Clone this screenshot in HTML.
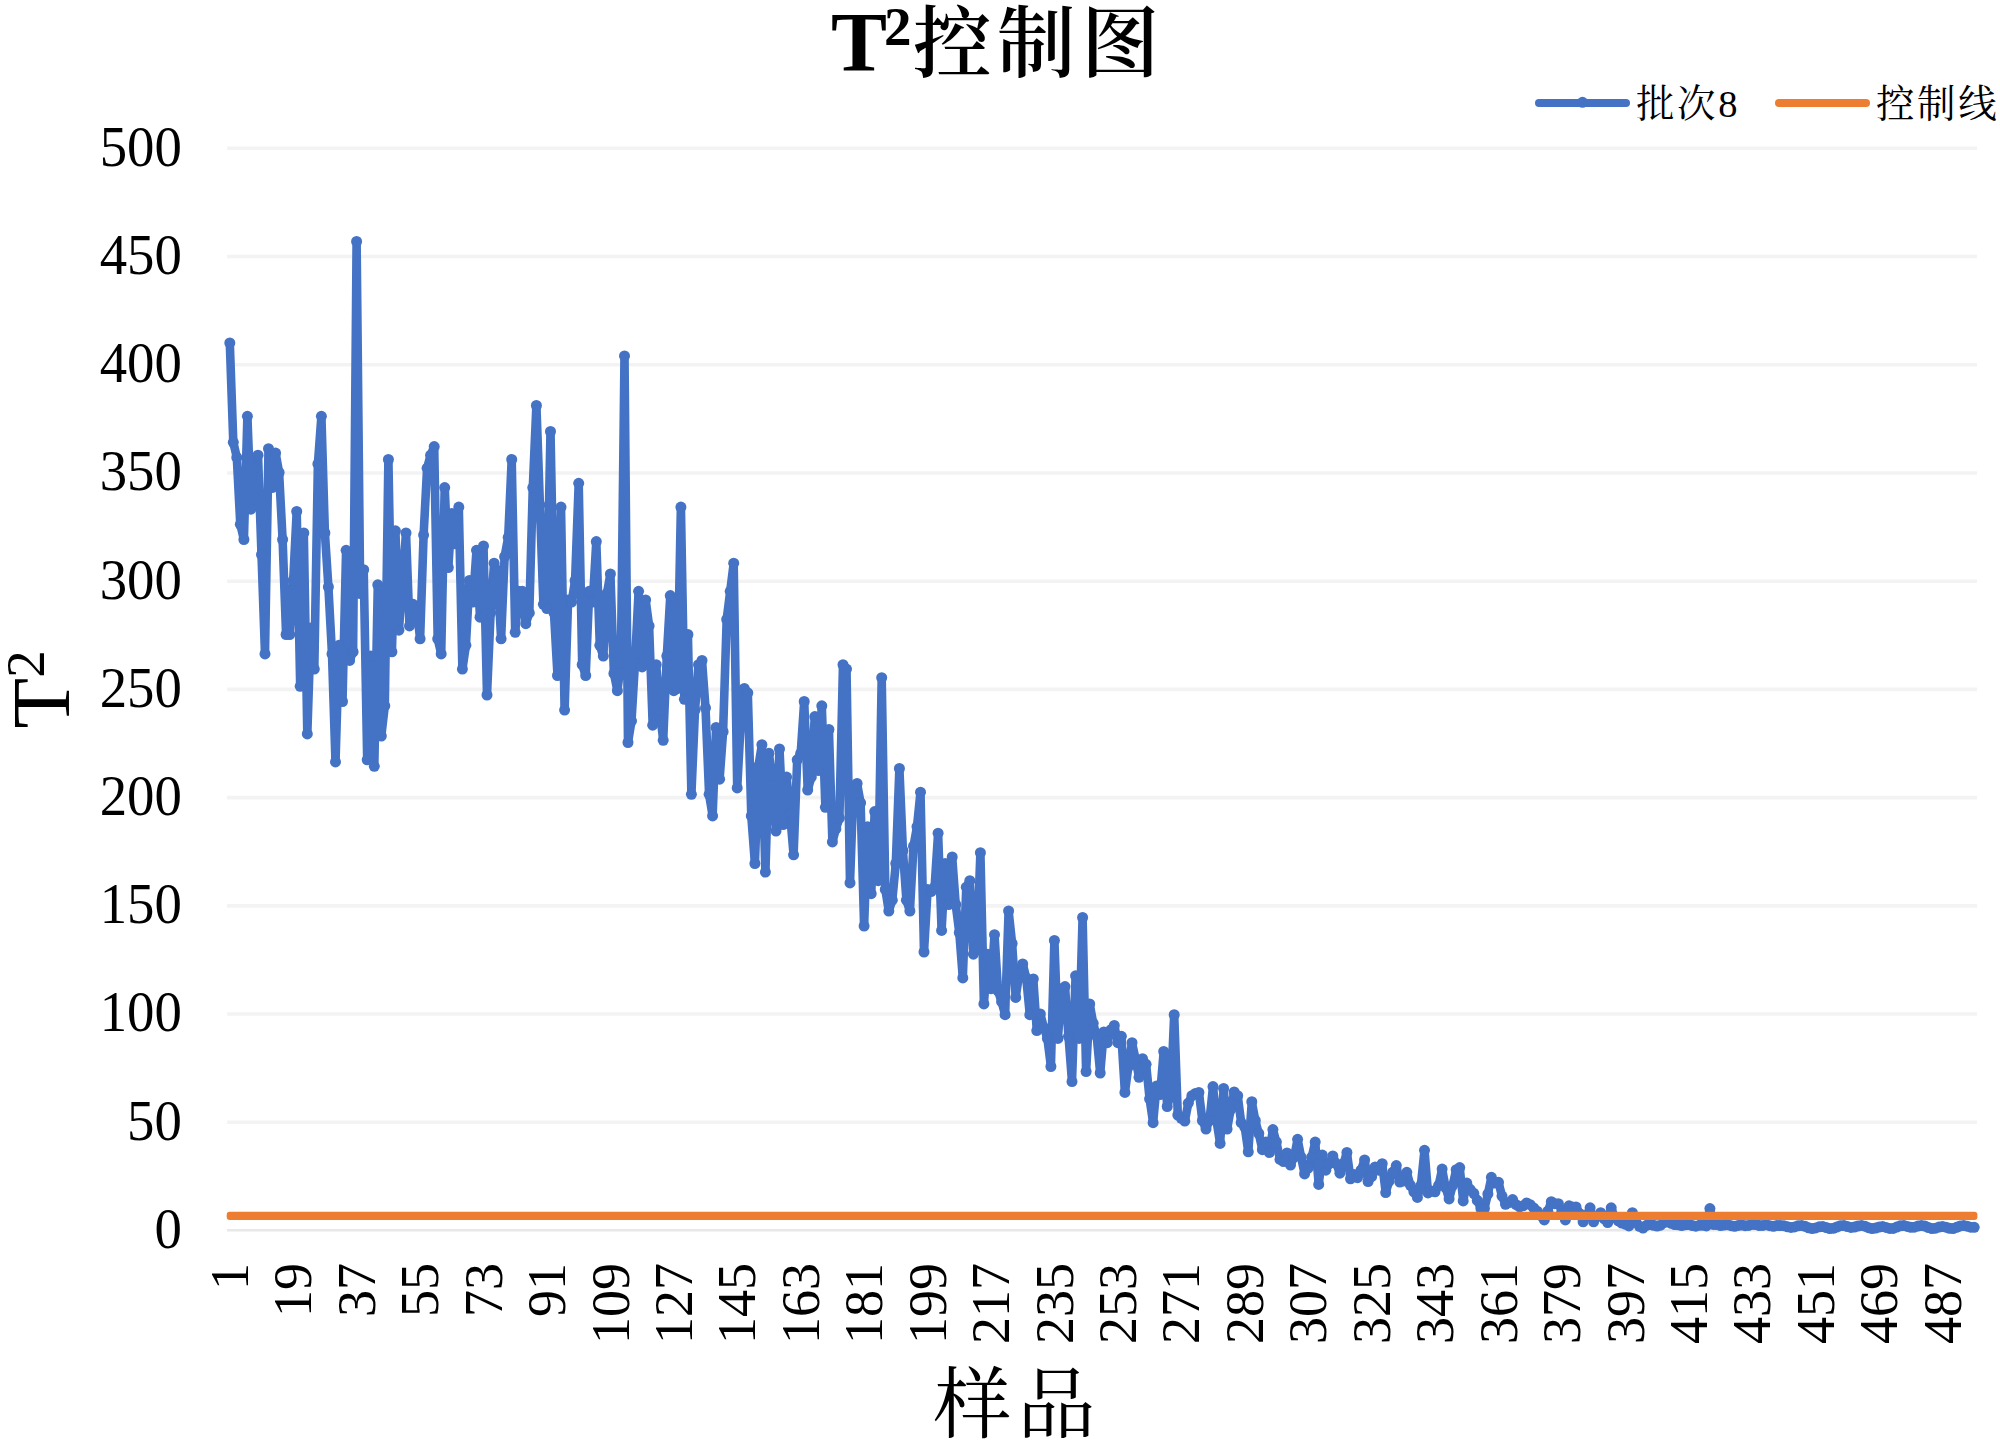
<!DOCTYPE html>
<html lang="zh"><head><meta charset="utf-8"><title>T²控制图</title>
<style>
html,body{margin:0;padding:0;background:#fff;}
body{width:2000px;height:1441px;overflow:hidden;}
svg{display:block;}
text{fill:#000;}
.num{font-family:"Liberation Serif","Noto Serif CJK SC",serif;font-size:54px;}
.cjk{font-family:"Liberation Serif","Noto Serif CJK SC",serif;}
</style></head><body>
<svg width="2000" height="1441" viewBox="0 0 2000 1441">
<rect width="2000" height="1441" fill="#fff"/>
<g stroke="#F3F3F3" stroke-width="3.6">
<line x1="227.0" y1="1122.28" x2="1977.0" y2="1122.28"/>
<line x1="227.0" y1="1014.06" x2="1977.0" y2="1014.06"/>
<line x1="227.0" y1="905.84" x2="1977.0" y2="905.84"/>
<line x1="227.0" y1="797.62" x2="1977.0" y2="797.62"/>
<line x1="227.0" y1="689.40" x2="1977.0" y2="689.40"/>
<line x1="227.0" y1="581.18" x2="1977.0" y2="581.18"/>
<line x1="227.0" y1="472.96" x2="1977.0" y2="472.96"/>
<line x1="227.0" y1="364.74" x2="1977.0" y2="364.74"/>
<line x1="227.0" y1="256.52" x2="1977.0" y2="256.52"/>
<line x1="227.0" y1="148.30" x2="1977.0" y2="148.30"/>
</g>
<line x1="227.0" y1="1230.20" x2="1977.0" y2="1230.20" stroke="#E8E8E8" stroke-width="2.6"/>
<g class="num" text-anchor="end">
<text transform="translate(181.9,1247.90) scale(1.015,1.045)">0</text>
<text transform="translate(181.9,1139.68) scale(1.015,1.045)">50</text>
<text transform="translate(181.9,1031.46) scale(1.015,1.045)">100</text>
<text transform="translate(181.9,923.24) scale(1.015,1.045)">150</text>
<text transform="translate(181.9,815.02) scale(1.015,1.045)">200</text>
<text transform="translate(181.9,706.80) scale(1.015,1.045)">250</text>
<text transform="translate(181.9,598.58) scale(1.015,1.045)">300</text>
<text transform="translate(181.9,490.36) scale(1.015,1.045)">350</text>
<text transform="translate(181.9,382.14) scale(1.015,1.045)">400</text>
<text transform="translate(181.9,273.92) scale(1.015,1.045)">450</text>
<text transform="translate(181.9,165.70) scale(1.015,1.045)">500</text>
</g>
<g class="num" text-anchor="end">
<text transform="translate(229.76,1263.1) rotate(-90)" y="18.2">1</text>
<text transform="translate(293.20,1263.1) rotate(-90)" y="18.2">19</text>
<text transform="translate(356.63,1263.1) rotate(-90)" y="18.2">37</text>
<text transform="translate(420.07,1263.1) rotate(-90)" y="18.2">55</text>
<text transform="translate(483.50,1263.1) rotate(-90)" y="18.2">73</text>
<text transform="translate(546.94,1263.1) rotate(-90)" y="18.2">91</text>
<text transform="translate(610.38,1263.1) rotate(-90)" y="18.2">109</text>
<text transform="translate(673.81,1263.1) rotate(-90)" y="18.2">127</text>
<text transform="translate(737.25,1263.1) rotate(-90)" y="18.2">145</text>
<text transform="translate(800.68,1263.1) rotate(-90)" y="18.2">163</text>
<text transform="translate(864.12,1263.1) rotate(-90)" y="18.2">181</text>
<text transform="translate(927.55,1263.1) rotate(-90)" y="18.2">199</text>
<text transform="translate(990.99,1263.1) rotate(-90)" y="18.2">217</text>
<text transform="translate(1054.42,1263.1) rotate(-90)" y="18.2">235</text>
<text transform="translate(1117.86,1263.1) rotate(-90)" y="18.2">253</text>
<text transform="translate(1181.29,1263.1) rotate(-90)" y="18.2">271</text>
<text transform="translate(1244.73,1263.1) rotate(-90)" y="18.2">289</text>
<text transform="translate(1308.17,1263.1) rotate(-90)" y="18.2">307</text>
<text transform="translate(1371.60,1263.1) rotate(-90)" y="18.2">325</text>
<text transform="translate(1435.04,1263.1) rotate(-90)" y="18.2">343</text>
<text transform="translate(1498.47,1263.1) rotate(-90)" y="18.2">361</text>
<text transform="translate(1561.91,1263.1) rotate(-90)" y="18.2">379</text>
<text transform="translate(1625.34,1263.1) rotate(-90)" y="18.2">397</text>
<text transform="translate(1688.78,1263.1) rotate(-90)" y="18.2">415</text>
<text transform="translate(1752.21,1263.1) rotate(-90)" y="18.2">433</text>
<text transform="translate(1815.65,1263.1) rotate(-90)" y="18.2">451</text>
<text transform="translate(1879.08,1263.1) rotate(-90)" y="18.2">469</text>
<text transform="translate(1942.52,1263.1) rotate(-90)" y="18.2">487</text>
</g>
<text class="cjk" x="831" y="70.5" font-size="84" font-weight="700">T<tspan font-size="55" dy="-25.5" dx="-3">2</tspan><tspan dy="25.5" dx="1.5" font-size="78.5" font-weight="600" letter-spacing="5.5">控制图</tspan></text>
<text class="cjk" transform="translate(68.7,728.5) rotate(-90)" font-size="83">T<tspan font-size="55" dy="-24.3">2</tspan></text>
<text class="cjk" x="933.5" y="1431.5" font-size="78" letter-spacing="6">样品</text>
<line x1="1539" y1="103" x2="1626" y2="103" stroke="#4472C4" stroke-width="8" stroke-linecap="round"/>
<circle cx="1582.5" cy="102.3" r="5.5" fill="#4472C4"/>
<text class="cjk" x="1636" y="117" font-size="38.5" letter-spacing="2.6">批次8</text>
<line x1="1779" y1="103" x2="1866" y2="103" stroke="#ED7D31" stroke-width="8" stroke-linecap="round"/>
<text class="cjk" x="1876" y="117" font-size="38.5" letter-spacing="2.6">控制线</text>
<polyline points="229.8,342.9 233.3,442.3 236.8,457.4 240.3,524.3 243.9,539.5 247.4,416.3 250.9,509.2 254.4,468.2 258.0,455.2 261.5,554.6 265.0,653.9 268.5,448.7 272.1,487.6 275.6,453.1 279.1,472.5 282.6,539.5 286.1,634.5 289.7,634.5 293.2,580.5 296.7,511.4 300.2,686.3 303.8,533.0 307.3,733.9 310.8,628.0 314.3,669.1 317.9,463.9 321.4,416.3 324.9,533.0 328.4,587.0 332.0,653.9 335.5,761.9 339.0,645.3 342.5,701.5 346.1,550.3 349.6,660.4 353.1,651.8 356.6,241.4 360.2,593.5 363.7,569.7 367.2,759.8 370.7,656.1 374.3,766.3 377.8,584.8 381.3,736.0 384.8,705.8 388.4,459.5 391.9,651.8 395.4,530.8 398.9,630.2 402.4,582.7 406.0,533.0 409.5,625.9 413.0,604.3 416.5,606.4 420.1,638.8 423.6,535.1 427.1,468.2 430.6,455.2 434.2,446.6 437.7,638.8 441.2,653.9 444.7,487.6 448.3,567.5 451.8,513.5 455.3,543.8 458.8,507.1 462.4,669.1 465.9,645.3 469.4,580.5 472.9,602.1 476.5,550.3 480.0,617.2 483.5,545.9 487.0,695.0 490.6,612.9 494.1,563.2 497.6,571.9 501.1,638.8 504.6,556.7 508.2,537.3 511.7,459.5 515.2,632.3 518.7,591.3 522.3,591.3 525.8,623.7 529.3,612.9 532.8,487.6 536.4,405.5 539.9,504.9 543.4,604.3 546.9,608.6 550.5,431.5 554.0,612.9 557.5,675.5 561.0,507.1 564.6,710.1 568.1,599.9 571.6,602.1 575.1,580.5 578.7,483.3 582.2,664.7 585.7,675.5 589.2,591.3 592.8,602.1 596.3,541.6 599.8,645.3 603.3,656.1 606.9,593.5 610.4,574.0 613.9,673.4 617.4,690.7 620.9,662.6 624.5,355.9 628.0,742.5 631.5,720.9 635.0,662.6 638.6,591.3 642.1,666.9 645.6,599.9 649.1,625.9 652.7,725.2 656.2,664.7 659.7,710.1 663.2,740.3 666.8,656.1 670.3,595.6 673.8,690.7 677.3,688.5 680.9,507.1 684.4,699.3 687.9,634.5 691.4,794.3 695.0,710.1 698.5,664.7 702.0,660.4 705.5,707.9 709.1,794.3 712.6,815.9 716.1,727.4 719.6,779.2 723.1,731.7 726.7,619.4 730.2,591.3 733.7,563.2 737.2,787.9 740.8,720.9 744.3,688.5 747.8,692.8 751.3,815.9 754.9,863.5 758.4,766.3 761.9,744.7 765.4,872.1 769.0,753.3 772.5,785.7 776.0,831.1 779.5,749.0 783.1,824.6 786.6,777.1 790.1,813.8 793.6,854.8 797.2,759.8 800.7,753.3 804.2,701.5 807.7,790.0 811.3,777.1 814.8,716.6 818.3,770.6 821.8,705.8 825.4,807.3 828.9,729.5 832.4,841.9 835.9,828.9 839.4,818.1 843.0,664.7 846.5,669.1 850.0,882.9 853.5,785.7 857.1,783.5 860.6,803.0 864.1,926.1 867.6,826.7 871.2,893.7 874.7,811.6 878.2,880.7 881.7,677.7 885.3,889.4 888.8,911.0 892.3,900.2 895.8,863.5 899.4,768.4 902.9,850.5 906.4,900.2 909.9,911.0 913.5,846.2 917.0,826.7 920.5,792.2 924.0,952.0 927.6,889.4 931.1,891.5 934.6,887.2 938.1,833.2 941.6,930.4 945.2,863.5 948.7,904.5 952.2,857.0 955.7,904.5 959.3,932.6 962.8,977.9 966.3,887.2 969.8,880.7 973.4,954.2 976.9,947.7 980.4,852.7 983.9,1003.9 987.5,954.2 991.0,988.7 994.5,934.7 998.0,990.9 1001.6,1001.7 1005.1,1014.7 1008.6,911.0 1012.1,943.4 1015.7,997.4 1019.2,973.6 1022.7,963.9 1026.2,977.9 1029.8,1014.7 1033.3,979.0 1036.8,1030.6 1040.3,1014.0 1043.9,1027.6 1047.4,1038.4 1050.9,1066.5 1054.4,940.4 1057.9,1038.4 1061.5,988.7 1065.0,986.6 1068.5,1036.3 1072.0,1081.6 1075.6,975.8 1079.1,1038.4 1082.6,917.5 1086.1,1071.5 1089.7,1003.9 1093.2,1023.3 1096.7,1036.3 1100.2,1073.0 1103.8,1031.9 1107.3,1042.7 1110.8,1029.8 1114.3,1025.5 1117.9,1042.7 1121.4,1036.3 1124.9,1092.4 1128.4,1066.5 1132.0,1042.7 1135.5,1058.9 1139.0,1077.3 1142.5,1058.7 1146.1,1064.3 1149.6,1098.9 1153.1,1122.7 1156.6,1085.9 1160.1,1094.6 1163.7,1051.4 1167.2,1106.5 1170.7,1094.6 1174.2,1014.7 1177.8,1115.1 1181.3,1118.3 1184.8,1121.1 1188.3,1103.2 1191.9,1095.7 1195.4,1093.5 1198.9,1092.4 1202.4,1120.5 1206.0,1129.1 1209.5,1120.5 1213.0,1086.6 1216.5,1120.5 1220.1,1143.4 1223.6,1088.5 1227.1,1129.1 1230.6,1109.7 1234.2,1092.0 1237.7,1095.7 1241.2,1122.7 1244.7,1127.0 1248.3,1151.8 1251.8,1101.7 1255.3,1120.5 1258.8,1133.5 1262.4,1149.7 1265.9,1142.1 1269.4,1152.5 1272.9,1129.6 1276.4,1142.1 1280.0,1159.4 1283.5,1161.5 1287.0,1152.9 1290.5,1165.0 1294.1,1157.2 1297.6,1139.3 1301.1,1157.2 1304.6,1173.9 1308.2,1168.0 1311.7,1157.2 1315.2,1142.1 1318.7,1184.4 1322.3,1155.1 1325.8,1170.2 1329.3,1163.7 1332.8,1155.9 1336.4,1163.7 1339.9,1173.2 1343.4,1163.7 1346.9,1152.5 1350.5,1178.8 1354.0,1174.5 1357.5,1177.7 1361.0,1170.2 1364.6,1160.0 1368.1,1181.6 1371.6,1176.7 1375.1,1166.9 1378.6,1170.2 1382.2,1163.7 1385.7,1192.6 1389.2,1181.0 1392.7,1172.3 1396.3,1165.6 1399.8,1182.1 1403.3,1181.0 1406.8,1172.3 1410.4,1185.3 1413.9,1191.8 1417.4,1197.4 1420.9,1185.3 1424.5,1150.3 1428.0,1192.9 1431.5,1191.1 1435.0,1191.8 1438.6,1185.3 1442.1,1169.1 1445.6,1187.5 1449.1,1198.9 1452.7,1185.3 1456.2,1169.7 1459.7,1167.6 1463.2,1200.9 1466.8,1183.1 1470.3,1189.6 1473.8,1193.3 1477.3,1200.4 1480.9,1208.6 1484.4,1208.6 1487.9,1193.9 1491.4,1177.3 1494.9,1183.1 1498.5,1182.3 1502.0,1196.1 1505.5,1204.3 1509.0,1202.6 1512.6,1199.6 1516.1,1204.7 1519.6,1206.9 1523.1,1205.8 1526.7,1203.0 1530.2,1204.7 1533.7,1208.0 1537.2,1211.2 1540.8,1215.5 1544.3,1219.9 1547.8,1211.2 1551.3,1201.7 1554.9,1203.7 1558.4,1203.7 1561.9,1211.2 1565.4,1219.9 1569.0,1205.8 1572.5,1206.9 1576.0,1206.9 1579.5,1213.4 1583.1,1221.8 1586.6,1215.5 1590.1,1207.8 1593.6,1221.8 1597.1,1216.6 1600.7,1212.7 1604.2,1218.8 1607.7,1222.5 1611.2,1207.8 1614.8,1217.7 1618.3,1220.9 1621.8,1223.1 1625.3,1224.2 1628.9,1225.9 1632.4,1212.7 1635.9,1222.0 1639.4,1226.3 1643.0,1228.1 1646.5,1225.3 1650.0,1223.1 1653.5,1225.3 1657.1,1226.0 1660.6,1225.2 1664.1,1222.5 1667.6,1221.6 1671.2,1223.3 1674.7,1224.5 1678.2,1224.8 1681.7,1225.5 1685.3,1224.8 1688.8,1224.5 1692.3,1225.6 1695.8,1226.2 1699.4,1225.3 1702.9,1225.2 1706.4,1225.9 1709.9,1208.6 1713.4,1224.4 1717.0,1224.6 1720.5,1225.5 1724.0,1225.1 1727.5,1224.7 1731.1,1225.7 1734.6,1226.3 1738.1,1225.4 1741.6,1225.0 1745.2,1225.7 1748.7,1225.4 1752.2,1224.3 1755.7,1224.5 1759.3,1225.6 1762.8,1225.4 1766.3,1224.8 1769.8,1225.7 1773.4,1226.3 1776.9,1225.4 1780.4,1225.6 1783.9,1225.7 1787.5,1226.8 1791.0,1227.4 1794.5,1226.9 1798.0,1225.8 1801.6,1225.4 1805.1,1226.3 1808.6,1227.8 1812.1,1228.5 1815.6,1227.9 1819.2,1226.8 1822.7,1226.6 1826.2,1227.5 1829.7,1228.5 1833.3,1228.3 1836.8,1227.0 1840.3,1225.7 1843.8,1225.6 1847.4,1226.6 1850.9,1227.4 1854.4,1227.1 1857.9,1226.0 1861.5,1225.4 1865.0,1226.2 1868.5,1227.7 1872.0,1228.5 1875.6,1228.0 1879.1,1227.0 1882.6,1226.6 1886.1,1227.4 1889.7,1228.4 1893.2,1228.4 1896.7,1227.1 1900.2,1225.8 1903.8,1225.5 1907.3,1226.4 1910.8,1227.3 1914.3,1227.2 1917.9,1226.1 1921.4,1225.4 1924.9,1226.0 1928.4,1227.5 1931.9,1228.5 1935.5,1228.2 1939.0,1227.1 1942.5,1226.6 1946.0,1227.2 1949.6,1228.3 1953.1,1228.5 1956.6,1227.3 1960.1,1225.9 1963.7,1225.4 1967.2,1226.2 1970.7,1227.2 1974.2,1227.3" fill="none" stroke="#4472C4" stroke-width="8.6" stroke-linejoin="round" stroke-linecap="round"/>
<g fill="#4472C4">
<circle cx="229.8" cy="342.9" r="5.5"/>
<circle cx="233.3" cy="442.3" r="5.5"/>
<circle cx="236.8" cy="457.4" r="5.5"/>
<circle cx="240.3" cy="524.3" r="5.5"/>
<circle cx="243.9" cy="539.5" r="5.5"/>
<circle cx="247.4" cy="416.3" r="5.5"/>
<circle cx="250.9" cy="509.2" r="5.5"/>
<circle cx="254.4" cy="468.2" r="5.5"/>
<circle cx="258.0" cy="455.2" r="5.5"/>
<circle cx="261.5" cy="554.6" r="5.5"/>
<circle cx="265.0" cy="653.9" r="5.5"/>
<circle cx="268.5" cy="448.7" r="5.5"/>
<circle cx="272.1" cy="487.6" r="5.5"/>
<circle cx="275.6" cy="453.1" r="5.5"/>
<circle cx="279.1" cy="472.5" r="5.5"/>
<circle cx="282.6" cy="539.5" r="5.5"/>
<circle cx="286.1" cy="634.5" r="5.5"/>
<circle cx="289.7" cy="634.5" r="5.5"/>
<circle cx="293.2" cy="580.5" r="5.5"/>
<circle cx="296.7" cy="511.4" r="5.5"/>
<circle cx="300.2" cy="686.3" r="5.5"/>
<circle cx="303.8" cy="533.0" r="5.5"/>
<circle cx="307.3" cy="733.9" r="5.5"/>
<circle cx="310.8" cy="628.0" r="5.5"/>
<circle cx="314.3" cy="669.1" r="5.5"/>
<circle cx="317.9" cy="463.9" r="5.5"/>
<circle cx="321.4" cy="416.3" r="5.5"/>
<circle cx="324.9" cy="533.0" r="5.5"/>
<circle cx="328.4" cy="587.0" r="5.5"/>
<circle cx="332.0" cy="653.9" r="5.5"/>
<circle cx="335.5" cy="761.9" r="5.5"/>
<circle cx="339.0" cy="645.3" r="5.5"/>
<circle cx="342.5" cy="701.5" r="5.5"/>
<circle cx="346.1" cy="550.3" r="5.5"/>
<circle cx="349.6" cy="660.4" r="5.5"/>
<circle cx="353.1" cy="651.8" r="5.5"/>
<circle cx="356.6" cy="241.4" r="5.5"/>
<circle cx="360.2" cy="593.5" r="5.5"/>
<circle cx="363.7" cy="569.7" r="5.5"/>
<circle cx="367.2" cy="759.8" r="5.5"/>
<circle cx="370.7" cy="656.1" r="5.5"/>
<circle cx="374.3" cy="766.3" r="5.5"/>
<circle cx="377.8" cy="584.8" r="5.5"/>
<circle cx="381.3" cy="736.0" r="5.5"/>
<circle cx="384.8" cy="705.8" r="5.5"/>
<circle cx="388.4" cy="459.5" r="5.5"/>
<circle cx="391.9" cy="651.8" r="5.5"/>
<circle cx="395.4" cy="530.8" r="5.5"/>
<circle cx="398.9" cy="630.2" r="5.5"/>
<circle cx="402.4" cy="582.7" r="5.5"/>
<circle cx="406.0" cy="533.0" r="5.5"/>
<circle cx="409.5" cy="625.9" r="5.5"/>
<circle cx="413.0" cy="604.3" r="5.5"/>
<circle cx="416.5" cy="606.4" r="5.5"/>
<circle cx="420.1" cy="638.8" r="5.5"/>
<circle cx="423.6" cy="535.1" r="5.5"/>
<circle cx="427.1" cy="468.2" r="5.5"/>
<circle cx="430.6" cy="455.2" r="5.5"/>
<circle cx="434.2" cy="446.6" r="5.5"/>
<circle cx="437.7" cy="638.8" r="5.5"/>
<circle cx="441.2" cy="653.9" r="5.5"/>
<circle cx="444.7" cy="487.6" r="5.5"/>
<circle cx="448.3" cy="567.5" r="5.5"/>
<circle cx="451.8" cy="513.5" r="5.5"/>
<circle cx="455.3" cy="543.8" r="5.5"/>
<circle cx="458.8" cy="507.1" r="5.5"/>
<circle cx="462.4" cy="669.1" r="5.5"/>
<circle cx="465.9" cy="645.3" r="5.5"/>
<circle cx="469.4" cy="580.5" r="5.5"/>
<circle cx="472.9" cy="602.1" r="5.5"/>
<circle cx="476.5" cy="550.3" r="5.5"/>
<circle cx="480.0" cy="617.2" r="5.5"/>
<circle cx="483.5" cy="545.9" r="5.5"/>
<circle cx="487.0" cy="695.0" r="5.5"/>
<circle cx="490.6" cy="612.9" r="5.5"/>
<circle cx="494.1" cy="563.2" r="5.5"/>
<circle cx="497.6" cy="571.9" r="5.5"/>
<circle cx="501.1" cy="638.8" r="5.5"/>
<circle cx="504.6" cy="556.7" r="5.5"/>
<circle cx="508.2" cy="537.3" r="5.5"/>
<circle cx="511.7" cy="459.5" r="5.5"/>
<circle cx="515.2" cy="632.3" r="5.5"/>
<circle cx="518.7" cy="591.3" r="5.5"/>
<circle cx="522.3" cy="591.3" r="5.5"/>
<circle cx="525.8" cy="623.7" r="5.5"/>
<circle cx="529.3" cy="612.9" r="5.5"/>
<circle cx="532.8" cy="487.6" r="5.5"/>
<circle cx="536.4" cy="405.5" r="5.5"/>
<circle cx="539.9" cy="504.9" r="5.5"/>
<circle cx="543.4" cy="604.3" r="5.5"/>
<circle cx="546.9" cy="608.6" r="5.5"/>
<circle cx="550.5" cy="431.5" r="5.5"/>
<circle cx="554.0" cy="612.9" r="5.5"/>
<circle cx="557.5" cy="675.5" r="5.5"/>
<circle cx="561.0" cy="507.1" r="5.5"/>
<circle cx="564.6" cy="710.1" r="5.5"/>
<circle cx="568.1" cy="599.9" r="5.5"/>
<circle cx="571.6" cy="602.1" r="5.5"/>
<circle cx="575.1" cy="580.5" r="5.5"/>
<circle cx="578.7" cy="483.3" r="5.5"/>
<circle cx="582.2" cy="664.7" r="5.5"/>
<circle cx="585.7" cy="675.5" r="5.5"/>
<circle cx="589.2" cy="591.3" r="5.5"/>
<circle cx="592.8" cy="602.1" r="5.5"/>
<circle cx="596.3" cy="541.6" r="5.5"/>
<circle cx="599.8" cy="645.3" r="5.5"/>
<circle cx="603.3" cy="656.1" r="5.5"/>
<circle cx="606.9" cy="593.5" r="5.5"/>
<circle cx="610.4" cy="574.0" r="5.5"/>
<circle cx="613.9" cy="673.4" r="5.5"/>
<circle cx="617.4" cy="690.7" r="5.5"/>
<circle cx="620.9" cy="662.6" r="5.5"/>
<circle cx="624.5" cy="355.9" r="5.5"/>
<circle cx="628.0" cy="742.5" r="5.5"/>
<circle cx="631.5" cy="720.9" r="5.5"/>
<circle cx="635.0" cy="662.6" r="5.5"/>
<circle cx="638.6" cy="591.3" r="5.5"/>
<circle cx="642.1" cy="666.9" r="5.5"/>
<circle cx="645.6" cy="599.9" r="5.5"/>
<circle cx="649.1" cy="625.9" r="5.5"/>
<circle cx="652.7" cy="725.2" r="5.5"/>
<circle cx="656.2" cy="664.7" r="5.5"/>
<circle cx="659.7" cy="710.1" r="5.5"/>
<circle cx="663.2" cy="740.3" r="5.5"/>
<circle cx="666.8" cy="656.1" r="5.5"/>
<circle cx="670.3" cy="595.6" r="5.5"/>
<circle cx="673.8" cy="690.7" r="5.5"/>
<circle cx="677.3" cy="688.5" r="5.5"/>
<circle cx="680.9" cy="507.1" r="5.5"/>
<circle cx="684.4" cy="699.3" r="5.5"/>
<circle cx="687.9" cy="634.5" r="5.5"/>
<circle cx="691.4" cy="794.3" r="5.5"/>
<circle cx="695.0" cy="710.1" r="5.5"/>
<circle cx="698.5" cy="664.7" r="5.5"/>
<circle cx="702.0" cy="660.4" r="5.5"/>
<circle cx="705.5" cy="707.9" r="5.5"/>
<circle cx="709.1" cy="794.3" r="5.5"/>
<circle cx="712.6" cy="815.9" r="5.5"/>
<circle cx="716.1" cy="727.4" r="5.5"/>
<circle cx="719.6" cy="779.2" r="5.5"/>
<circle cx="723.1" cy="731.7" r="5.5"/>
<circle cx="726.7" cy="619.4" r="5.5"/>
<circle cx="730.2" cy="591.3" r="5.5"/>
<circle cx="733.7" cy="563.2" r="5.5"/>
<circle cx="737.2" cy="787.9" r="5.5"/>
<circle cx="740.8" cy="720.9" r="5.5"/>
<circle cx="744.3" cy="688.5" r="5.5"/>
<circle cx="747.8" cy="692.8" r="5.5"/>
<circle cx="751.3" cy="815.9" r="5.5"/>
<circle cx="754.9" cy="863.5" r="5.5"/>
<circle cx="758.4" cy="766.3" r="5.5"/>
<circle cx="761.9" cy="744.7" r="5.5"/>
<circle cx="765.4" cy="872.1" r="5.5"/>
<circle cx="769.0" cy="753.3" r="5.5"/>
<circle cx="772.5" cy="785.7" r="5.5"/>
<circle cx="776.0" cy="831.1" r="5.5"/>
<circle cx="779.5" cy="749.0" r="5.5"/>
<circle cx="783.1" cy="824.6" r="5.5"/>
<circle cx="786.6" cy="777.1" r="5.5"/>
<circle cx="790.1" cy="813.8" r="5.5"/>
<circle cx="793.6" cy="854.8" r="5.5"/>
<circle cx="797.2" cy="759.8" r="5.5"/>
<circle cx="800.7" cy="753.3" r="5.5"/>
<circle cx="804.2" cy="701.5" r="5.5"/>
<circle cx="807.7" cy="790.0" r="5.5"/>
<circle cx="811.3" cy="777.1" r="5.5"/>
<circle cx="814.8" cy="716.6" r="5.5"/>
<circle cx="818.3" cy="770.6" r="5.5"/>
<circle cx="821.8" cy="705.8" r="5.5"/>
<circle cx="825.4" cy="807.3" r="5.5"/>
<circle cx="828.9" cy="729.5" r="5.5"/>
<circle cx="832.4" cy="841.9" r="5.5"/>
<circle cx="835.9" cy="828.9" r="5.5"/>
<circle cx="839.4" cy="818.1" r="5.5"/>
<circle cx="843.0" cy="664.7" r="5.5"/>
<circle cx="846.5" cy="669.1" r="5.5"/>
<circle cx="850.0" cy="882.9" r="5.5"/>
<circle cx="853.5" cy="785.7" r="5.5"/>
<circle cx="857.1" cy="783.5" r="5.5"/>
<circle cx="860.6" cy="803.0" r="5.5"/>
<circle cx="864.1" cy="926.1" r="5.5"/>
<circle cx="867.6" cy="826.7" r="5.5"/>
<circle cx="871.2" cy="893.7" r="5.5"/>
<circle cx="874.7" cy="811.6" r="5.5"/>
<circle cx="878.2" cy="880.7" r="5.5"/>
<circle cx="881.7" cy="677.7" r="5.5"/>
<circle cx="885.3" cy="889.4" r="5.5"/>
<circle cx="888.8" cy="911.0" r="5.5"/>
<circle cx="892.3" cy="900.2" r="5.5"/>
<circle cx="895.8" cy="863.5" r="5.5"/>
<circle cx="899.4" cy="768.4" r="5.5"/>
<circle cx="902.9" cy="850.5" r="5.5"/>
<circle cx="906.4" cy="900.2" r="5.5"/>
<circle cx="909.9" cy="911.0" r="5.5"/>
<circle cx="913.5" cy="846.2" r="5.5"/>
<circle cx="917.0" cy="826.7" r="5.5"/>
<circle cx="920.5" cy="792.2" r="5.5"/>
<circle cx="924.0" cy="952.0" r="5.5"/>
<circle cx="927.6" cy="889.4" r="5.5"/>
<circle cx="931.1" cy="891.5" r="5.5"/>
<circle cx="934.6" cy="887.2" r="5.5"/>
<circle cx="938.1" cy="833.2" r="5.5"/>
<circle cx="941.6" cy="930.4" r="5.5"/>
<circle cx="945.2" cy="863.5" r="5.5"/>
<circle cx="948.7" cy="904.5" r="5.5"/>
<circle cx="952.2" cy="857.0" r="5.5"/>
<circle cx="955.7" cy="904.5" r="5.5"/>
<circle cx="959.3" cy="932.6" r="5.5"/>
<circle cx="962.8" cy="977.9" r="5.5"/>
<circle cx="966.3" cy="887.2" r="5.5"/>
<circle cx="969.8" cy="880.7" r="5.5"/>
<circle cx="973.4" cy="954.2" r="5.5"/>
<circle cx="976.9" cy="947.7" r="5.5"/>
<circle cx="980.4" cy="852.7" r="5.5"/>
<circle cx="983.9" cy="1003.9" r="5.5"/>
<circle cx="987.5" cy="954.2" r="5.5"/>
<circle cx="991.0" cy="988.7" r="5.5"/>
<circle cx="994.5" cy="934.7" r="5.5"/>
<circle cx="998.0" cy="990.9" r="5.5"/>
<circle cx="1001.6" cy="1001.7" r="5.5"/>
<circle cx="1005.1" cy="1014.7" r="5.5"/>
<circle cx="1008.6" cy="911.0" r="5.5"/>
<circle cx="1012.1" cy="943.4" r="5.5"/>
<circle cx="1015.7" cy="997.4" r="5.5"/>
<circle cx="1019.2" cy="973.6" r="5.5"/>
<circle cx="1022.7" cy="963.9" r="5.5"/>
<circle cx="1026.2" cy="977.9" r="5.5"/>
<circle cx="1029.8" cy="1014.7" r="5.5"/>
<circle cx="1033.3" cy="979.0" r="5.5"/>
<circle cx="1036.8" cy="1030.6" r="5.5"/>
<circle cx="1040.3" cy="1014.0" r="5.5"/>
<circle cx="1043.9" cy="1027.6" r="5.5"/>
<circle cx="1047.4" cy="1038.4" r="5.5"/>
<circle cx="1050.9" cy="1066.5" r="5.5"/>
<circle cx="1054.4" cy="940.4" r="5.5"/>
<circle cx="1057.9" cy="1038.4" r="5.5"/>
<circle cx="1061.5" cy="988.7" r="5.5"/>
<circle cx="1065.0" cy="986.6" r="5.5"/>
<circle cx="1068.5" cy="1036.3" r="5.5"/>
<circle cx="1072.0" cy="1081.6" r="5.5"/>
<circle cx="1075.6" cy="975.8" r="5.5"/>
<circle cx="1079.1" cy="1038.4" r="5.5"/>
<circle cx="1082.6" cy="917.5" r="5.5"/>
<circle cx="1086.1" cy="1071.5" r="5.5"/>
<circle cx="1089.7" cy="1003.9" r="5.5"/>
<circle cx="1093.2" cy="1023.3" r="5.5"/>
<circle cx="1096.7" cy="1036.3" r="5.5"/>
<circle cx="1100.2" cy="1073.0" r="5.5"/>
<circle cx="1103.8" cy="1031.9" r="5.5"/>
<circle cx="1107.3" cy="1042.7" r="5.5"/>
<circle cx="1110.8" cy="1029.8" r="5.5"/>
<circle cx="1114.3" cy="1025.5" r="5.5"/>
<circle cx="1117.9" cy="1042.7" r="5.5"/>
<circle cx="1121.4" cy="1036.3" r="5.5"/>
<circle cx="1124.9" cy="1092.4" r="5.5"/>
<circle cx="1128.4" cy="1066.5" r="5.5"/>
<circle cx="1132.0" cy="1042.7" r="5.5"/>
<circle cx="1135.5" cy="1058.9" r="5.5"/>
<circle cx="1139.0" cy="1077.3" r="5.5"/>
<circle cx="1142.5" cy="1058.7" r="5.5"/>
<circle cx="1146.1" cy="1064.3" r="5.5"/>
<circle cx="1149.6" cy="1098.9" r="5.5"/>
<circle cx="1153.1" cy="1122.7" r="5.5"/>
<circle cx="1156.6" cy="1085.9" r="5.5"/>
<circle cx="1160.1" cy="1094.6" r="5.5"/>
<circle cx="1163.7" cy="1051.4" r="5.5"/>
<circle cx="1167.2" cy="1106.5" r="5.5"/>
<circle cx="1170.7" cy="1094.6" r="5.5"/>
<circle cx="1174.2" cy="1014.7" r="5.5"/>
<circle cx="1177.8" cy="1115.1" r="5.5"/>
<circle cx="1181.3" cy="1118.3" r="5.5"/>
<circle cx="1184.8" cy="1121.1" r="5.5"/>
<circle cx="1188.3" cy="1103.2" r="5.5"/>
<circle cx="1191.9" cy="1095.7" r="5.5"/>
<circle cx="1195.4" cy="1093.5" r="5.5"/>
<circle cx="1198.9" cy="1092.4" r="5.5"/>
<circle cx="1202.4" cy="1120.5" r="5.5"/>
<circle cx="1206.0" cy="1129.1" r="5.5"/>
<circle cx="1209.5" cy="1120.5" r="5.5"/>
<circle cx="1213.0" cy="1086.6" r="5.5"/>
<circle cx="1216.5" cy="1120.5" r="5.5"/>
<circle cx="1220.1" cy="1143.4" r="5.5"/>
<circle cx="1223.6" cy="1088.5" r="5.5"/>
<circle cx="1227.1" cy="1129.1" r="5.5"/>
<circle cx="1230.6" cy="1109.7" r="5.5"/>
<circle cx="1234.2" cy="1092.0" r="5.5"/>
<circle cx="1237.7" cy="1095.7" r="5.5"/>
<circle cx="1241.2" cy="1122.7" r="5.5"/>
<circle cx="1244.7" cy="1127.0" r="5.5"/>
<circle cx="1248.3" cy="1151.8" r="5.5"/>
<circle cx="1251.8" cy="1101.7" r="5.5"/>
<circle cx="1255.3" cy="1120.5" r="5.5"/>
<circle cx="1258.8" cy="1133.5" r="5.5"/>
<circle cx="1262.4" cy="1149.7" r="5.5"/>
<circle cx="1265.9" cy="1142.1" r="5.5"/>
<circle cx="1269.4" cy="1152.5" r="5.5"/>
<circle cx="1272.9" cy="1129.6" r="5.5"/>
<circle cx="1276.4" cy="1142.1" r="5.5"/>
<circle cx="1280.0" cy="1159.4" r="5.5"/>
<circle cx="1283.5" cy="1161.5" r="5.5"/>
<circle cx="1287.0" cy="1152.9" r="5.5"/>
<circle cx="1290.5" cy="1165.0" r="5.5"/>
<circle cx="1294.1" cy="1157.2" r="5.5"/>
<circle cx="1297.6" cy="1139.3" r="5.5"/>
<circle cx="1301.1" cy="1157.2" r="5.5"/>
<circle cx="1304.6" cy="1173.9" r="5.5"/>
<circle cx="1308.2" cy="1168.0" r="5.5"/>
<circle cx="1311.7" cy="1157.2" r="5.5"/>
<circle cx="1315.2" cy="1142.1" r="5.5"/>
<circle cx="1318.7" cy="1184.4" r="5.5"/>
<circle cx="1322.3" cy="1155.1" r="5.5"/>
<circle cx="1325.8" cy="1170.2" r="5.5"/>
<circle cx="1329.3" cy="1163.7" r="5.5"/>
<circle cx="1332.8" cy="1155.9" r="5.5"/>
<circle cx="1336.4" cy="1163.7" r="5.5"/>
<circle cx="1339.9" cy="1173.2" r="5.5"/>
<circle cx="1343.4" cy="1163.7" r="5.5"/>
<circle cx="1346.9" cy="1152.5" r="5.5"/>
<circle cx="1350.5" cy="1178.8" r="5.5"/>
<circle cx="1354.0" cy="1174.5" r="5.5"/>
<circle cx="1357.5" cy="1177.7" r="5.5"/>
<circle cx="1361.0" cy="1170.2" r="5.5"/>
<circle cx="1364.6" cy="1160.0" r="5.5"/>
<circle cx="1368.1" cy="1181.6" r="5.5"/>
<circle cx="1371.6" cy="1176.7" r="5.5"/>
<circle cx="1375.1" cy="1166.9" r="5.5"/>
<circle cx="1378.6" cy="1170.2" r="5.5"/>
<circle cx="1382.2" cy="1163.7" r="5.5"/>
<circle cx="1385.7" cy="1192.6" r="5.5"/>
<circle cx="1389.2" cy="1181.0" r="5.5"/>
<circle cx="1392.7" cy="1172.3" r="5.5"/>
<circle cx="1396.3" cy="1165.6" r="5.5"/>
<circle cx="1399.8" cy="1182.1" r="5.5"/>
<circle cx="1403.3" cy="1181.0" r="5.5"/>
<circle cx="1406.8" cy="1172.3" r="5.5"/>
<circle cx="1410.4" cy="1185.3" r="5.5"/>
<circle cx="1413.9" cy="1191.8" r="5.5"/>
<circle cx="1417.4" cy="1197.4" r="5.5"/>
<circle cx="1420.9" cy="1185.3" r="5.5"/>
<circle cx="1424.5" cy="1150.3" r="5.5"/>
<circle cx="1428.0" cy="1192.9" r="5.5"/>
<circle cx="1431.5" cy="1191.1" r="5.5"/>
<circle cx="1435.0" cy="1191.8" r="5.5"/>
<circle cx="1438.6" cy="1185.3" r="5.5"/>
<circle cx="1442.1" cy="1169.1" r="5.5"/>
<circle cx="1445.6" cy="1187.5" r="5.5"/>
<circle cx="1449.1" cy="1198.9" r="5.5"/>
<circle cx="1452.7" cy="1185.3" r="5.5"/>
<circle cx="1456.2" cy="1169.7" r="5.5"/>
<circle cx="1459.7" cy="1167.6" r="5.5"/>
<circle cx="1463.2" cy="1200.9" r="5.5"/>
<circle cx="1466.8" cy="1183.1" r="5.5"/>
<circle cx="1470.3" cy="1189.6" r="5.5"/>
<circle cx="1473.8" cy="1193.3" r="5.5"/>
<circle cx="1477.3" cy="1200.4" r="5.5"/>
<circle cx="1480.9" cy="1208.6" r="5.5"/>
<circle cx="1484.4" cy="1208.6" r="5.5"/>
<circle cx="1487.9" cy="1193.9" r="5.5"/>
<circle cx="1491.4" cy="1177.3" r="5.5"/>
<circle cx="1494.9" cy="1183.1" r="5.5"/>
<circle cx="1498.5" cy="1182.3" r="5.5"/>
<circle cx="1502.0" cy="1196.1" r="5.5"/>
<circle cx="1505.5" cy="1204.3" r="5.5"/>
<circle cx="1509.0" cy="1202.6" r="5.5"/>
<circle cx="1512.6" cy="1199.6" r="5.5"/>
<circle cx="1516.1" cy="1204.7" r="5.5"/>
<circle cx="1519.6" cy="1206.9" r="5.5"/>
<circle cx="1523.1" cy="1205.8" r="5.5"/>
<circle cx="1526.7" cy="1203.0" r="5.5"/>
<circle cx="1530.2" cy="1204.7" r="5.5"/>
<circle cx="1533.7" cy="1208.0" r="5.5"/>
<circle cx="1537.2" cy="1211.2" r="5.5"/>
<circle cx="1540.8" cy="1215.5" r="5.5"/>
<circle cx="1544.3" cy="1219.9" r="5.5"/>
<circle cx="1547.8" cy="1211.2" r="5.5"/>
<circle cx="1551.3" cy="1201.7" r="5.5"/>
<circle cx="1554.9" cy="1203.7" r="5.5"/>
<circle cx="1558.4" cy="1203.7" r="5.5"/>
<circle cx="1561.9" cy="1211.2" r="5.5"/>
<circle cx="1565.4" cy="1219.9" r="5.5"/>
<circle cx="1569.0" cy="1205.8" r="5.5"/>
<circle cx="1572.5" cy="1206.9" r="5.5"/>
<circle cx="1576.0" cy="1206.9" r="5.5"/>
<circle cx="1579.5" cy="1213.4" r="5.5"/>
<circle cx="1583.1" cy="1221.8" r="5.5"/>
<circle cx="1586.6" cy="1215.5" r="5.5"/>
<circle cx="1590.1" cy="1207.8" r="5.5"/>
<circle cx="1593.6" cy="1221.8" r="5.5"/>
<circle cx="1597.1" cy="1216.6" r="5.5"/>
<circle cx="1600.7" cy="1212.7" r="5.5"/>
<circle cx="1604.2" cy="1218.8" r="5.5"/>
<circle cx="1607.7" cy="1222.5" r="5.5"/>
<circle cx="1611.2" cy="1207.8" r="5.5"/>
<circle cx="1614.8" cy="1217.7" r="5.5"/>
<circle cx="1618.3" cy="1220.9" r="5.5"/>
<circle cx="1621.8" cy="1223.1" r="5.5"/>
<circle cx="1625.3" cy="1224.2" r="5.5"/>
<circle cx="1628.9" cy="1225.9" r="5.5"/>
<circle cx="1632.4" cy="1212.7" r="5.5"/>
<circle cx="1635.9" cy="1222.0" r="5.5"/>
<circle cx="1639.4" cy="1226.3" r="5.5"/>
<circle cx="1643.0" cy="1228.1" r="5.5"/>
<circle cx="1646.5" cy="1225.3" r="5.5"/>
<circle cx="1650.0" cy="1223.1" r="5.5"/>
<circle cx="1653.5" cy="1225.3" r="5.5"/>
<circle cx="1657.1" cy="1226.0" r="5.5"/>
<circle cx="1660.6" cy="1225.2" r="5.5"/>
<circle cx="1664.1" cy="1222.5" r="5.5"/>
<circle cx="1667.6" cy="1221.6" r="5.5"/>
<circle cx="1671.2" cy="1223.3" r="5.5"/>
<circle cx="1674.7" cy="1224.5" r="5.5"/>
<circle cx="1678.2" cy="1224.8" r="5.5"/>
<circle cx="1681.7" cy="1225.5" r="5.5"/>
<circle cx="1685.3" cy="1224.8" r="5.5"/>
<circle cx="1688.8" cy="1224.5" r="5.5"/>
<circle cx="1692.3" cy="1225.6" r="5.5"/>
<circle cx="1695.8" cy="1226.2" r="5.5"/>
<circle cx="1699.4" cy="1225.3" r="5.5"/>
<circle cx="1702.9" cy="1225.2" r="5.5"/>
<circle cx="1706.4" cy="1225.9" r="5.5"/>
<circle cx="1709.9" cy="1208.6" r="5.5"/>
<circle cx="1713.4" cy="1224.4" r="5.5"/>
<circle cx="1717.0" cy="1224.6" r="5.5"/>
<circle cx="1720.5" cy="1225.5" r="5.5"/>
<circle cx="1724.0" cy="1225.1" r="5.5"/>
<circle cx="1727.5" cy="1224.7" r="5.5"/>
<circle cx="1731.1" cy="1225.7" r="5.5"/>
<circle cx="1734.6" cy="1226.3" r="5.5"/>
<circle cx="1738.1" cy="1225.4" r="5.5"/>
<circle cx="1741.6" cy="1225.0" r="5.5"/>
<circle cx="1745.2" cy="1225.7" r="5.5"/>
<circle cx="1748.7" cy="1225.4" r="5.5"/>
<circle cx="1752.2" cy="1224.3" r="5.5"/>
<circle cx="1755.7" cy="1224.5" r="5.5"/>
<circle cx="1759.3" cy="1225.6" r="5.5"/>
<circle cx="1762.8" cy="1225.4" r="5.5"/>
<circle cx="1766.3" cy="1224.8" r="5.5"/>
<circle cx="1769.8" cy="1225.7" r="5.5"/>
<circle cx="1773.4" cy="1226.3" r="5.5"/>
<circle cx="1776.9" cy="1225.4" r="5.5"/>
<circle cx="1780.4" cy="1225.6" r="5.5"/>
<circle cx="1783.9" cy="1225.7" r="5.5"/>
<circle cx="1787.5" cy="1226.8" r="5.5"/>
<circle cx="1791.0" cy="1227.4" r="5.5"/>
<circle cx="1794.5" cy="1226.9" r="5.5"/>
<circle cx="1798.0" cy="1225.8" r="5.5"/>
<circle cx="1801.6" cy="1225.4" r="5.5"/>
<circle cx="1805.1" cy="1226.3" r="5.5"/>
<circle cx="1808.6" cy="1227.8" r="5.5"/>
<circle cx="1812.1" cy="1228.5" r="5.5"/>
<circle cx="1815.6" cy="1227.9" r="5.5"/>
<circle cx="1819.2" cy="1226.8" r="5.5"/>
<circle cx="1822.7" cy="1226.6" r="5.5"/>
<circle cx="1826.2" cy="1227.5" r="5.5"/>
<circle cx="1829.7" cy="1228.5" r="5.5"/>
<circle cx="1833.3" cy="1228.3" r="5.5"/>
<circle cx="1836.8" cy="1227.0" r="5.5"/>
<circle cx="1840.3" cy="1225.7" r="5.5"/>
<circle cx="1843.8" cy="1225.6" r="5.5"/>
<circle cx="1847.4" cy="1226.6" r="5.5"/>
<circle cx="1850.9" cy="1227.4" r="5.5"/>
<circle cx="1854.4" cy="1227.1" r="5.5"/>
<circle cx="1857.9" cy="1226.0" r="5.5"/>
<circle cx="1861.5" cy="1225.4" r="5.5"/>
<circle cx="1865.0" cy="1226.2" r="5.5"/>
<circle cx="1868.5" cy="1227.7" r="5.5"/>
<circle cx="1872.0" cy="1228.5" r="5.5"/>
<circle cx="1875.6" cy="1228.0" r="5.5"/>
<circle cx="1879.1" cy="1227.0" r="5.5"/>
<circle cx="1882.6" cy="1226.6" r="5.5"/>
<circle cx="1886.1" cy="1227.4" r="5.5"/>
<circle cx="1889.7" cy="1228.4" r="5.5"/>
<circle cx="1893.2" cy="1228.4" r="5.5"/>
<circle cx="1896.7" cy="1227.1" r="5.5"/>
<circle cx="1900.2" cy="1225.8" r="5.5"/>
<circle cx="1903.8" cy="1225.5" r="5.5"/>
<circle cx="1907.3" cy="1226.4" r="5.5"/>
<circle cx="1910.8" cy="1227.3" r="5.5"/>
<circle cx="1914.3" cy="1227.2" r="5.5"/>
<circle cx="1917.9" cy="1226.1" r="5.5"/>
<circle cx="1921.4" cy="1225.4" r="5.5"/>
<circle cx="1924.9" cy="1226.0" r="5.5"/>
<circle cx="1928.4" cy="1227.5" r="5.5"/>
<circle cx="1931.9" cy="1228.5" r="5.5"/>
<circle cx="1935.5" cy="1228.2" r="5.5"/>
<circle cx="1939.0" cy="1227.1" r="5.5"/>
<circle cx="1942.5" cy="1226.6" r="5.5"/>
<circle cx="1946.0" cy="1227.2" r="5.5"/>
<circle cx="1949.6" cy="1228.3" r="5.5"/>
<circle cx="1953.1" cy="1228.5" r="5.5"/>
<circle cx="1956.6" cy="1227.3" r="5.5"/>
<circle cx="1960.1" cy="1225.9" r="5.5"/>
<circle cx="1963.7" cy="1225.4" r="5.5"/>
<circle cx="1967.2" cy="1226.2" r="5.5"/>
<circle cx="1970.7" cy="1227.2" r="5.5"/>
<circle cx="1974.2" cy="1227.3" r="5.5"/>
</g>
<rect x="226.7" y="1211.7" width="1750.7" height="8.2" rx="3" ry="3" fill="#ED7D31"/>
</svg></body></html>
